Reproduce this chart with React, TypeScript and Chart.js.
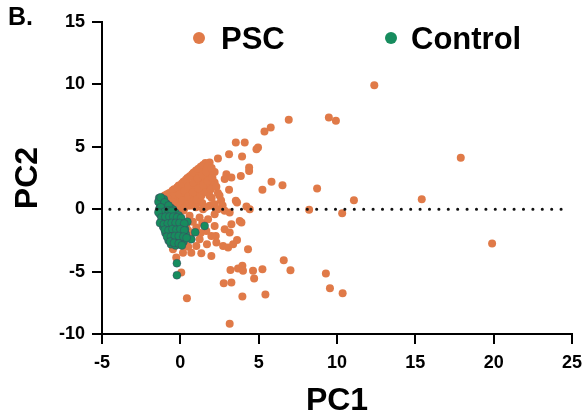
import React, { useEffect, useRef } from "react";
import { Chart, registerables } from "chart.js";

Chart.register(...registerables);

// ---- Data ----
const seriesLabels = ["PSC", "Control"];
const seriesColors = ["#E07A48", "#178C5E"];

const pscPC1 = [
  12.38, 9.48, 9.93, 6.92, 5.77, 5.37, 3.54, 4.11, 4.86, 4.96,
  3.11, 3.94, 2.4, 1.87, 1.7, 4.39, 4.39, 2.19, 1.02, 2.94,
  3.26, 2.83, 3.86, 2.19, 2.13, 3.11, 5.82, 5.24, 6.52, 1.87,
  3.54, 1.23, 8.73, 8.22, 10.33, 11.08, 15.41, 17.9, 19.9, 9.29,
  9.55, 10.36, 1.34, 1.98, 4.32, 6.6, 7.03, 3.2, 3.68, 3.96,
  4.0, 4.64, 5.24, 4.71, 2.77, 3.26, 3.96, 5.43, 3.15, 0.42,
  0.17, 0.7, -0.47, 0.06, -0.26, 2.73, 3.05, 3.37, 3.62, 3.15,
  3.26, 3.79, 3.15, 2.83, 3.62, 4.22, 4.43, 2.26, 2.83, 3.9,
  0.59, 1.02, 1.45, 1.87, 0.59, 1.23, 1.77, 2.19, 0.38, 1.02,
  1.66, 2.19, 0.59, 1.23, 1.98, 2.3, 0.27, 1.02, 0.8, 1.4,
  0.5, 1.3, 1.7, 0.5, -0.5, 0.2, 0.0, 0.3,
  -1.0, -0.7, -0.4, -0.1, 0.2, 0.45, 0.75, 1.0, 1.3, 1.6,
  -0.6, -0.3, 0.0, 0.3, 0.6, 0.9, 1.2, 1.5, 1.8,
  -0.2, 0.1, 0.4, 0.7, 1.0, 1.3, 1.6, 1.9,
  0.0, 0.3, 0.6, 0.9, 1.2, 1.5, 1.8, 2.1,
  -0.2, 0.25, 0.8, 1.4, 2.0, 2.4, 2.2, 2.6, 1.13, 1.55,
  -0.85, -0.5, -0.2, 0.1, 0.35, 0.6, 0.85, 1.15, 1.45, 1.75,
  -0.45, -0.05, 0.25, 0.5, 0.85, 1.1, 1.4, 1.65, 2.0,
  0.15, 0.5, 0.8, 1.15, 1.45, 1.75, 2.05,
  0.45, 0.75, 1.05, 1.35, 1.65, 1.95, 2.3, 2.5, 2.7,
  -0.75, -0.5, 1.0, 1.6, 2.4,
];
const pscPC2 = [
  9.94, 7.35, 7.08, 7.16, 6.55, 6.23, 5.35, 5.35, 4.81, 4.95,
  4.41, 4.22, 4.07, 3.74, 3.53, 3.34, 3.07, 2.99, 2.99, 2.81,
  2.54, 2.41, 2.67, 2.14, 1.87, 1.55, 2.19, 1.55, 1.92, 1.07,
  0.67, 0.8, 1.66, -0.05, -0.32, 0.72, 0.8, 4.12, -2.75, -5.16,
  -6.34, -6.74, -3.53, -3.74, -3.21, -4.09, -4.89, -4.87, -4.76, -4.54,
  -4.94, -4.94, -4.81, -5.56, -5.93, -5.88, -7.0, -6.84, -9.17, -7.14,
  -3.48, -3.48, -3.21, -5.08, -3.88, -2.94, -3.07, -2.81, -2.46, -1.87,
  -1.2, -0.94, -0.27, -0.13, 0.53, 0.21, 0.0, -2.14, -1.6, -1.07,
  0.27, 0.53, 0.0, 0.27, -0.53, -0.67, -0.8, -0.4, -1.34, -1.47,
  -1.74, -1.34, -2.14, -2.41, -2.14, -2.67, -2.67, -2.94, -1.0, -1.1,
  -1.7, -1.9, -2.8, -3.0, -2.9, -0.1, 0.3, 0.6,
  1.1, 1.3, 1.6, 1.9, 2.2, 2.5, 2.8, 3.1, 3.4, 3.7,
  0.9, 1.1, 1.4, 1.7, 2.0, 2.3, 2.6, 2.9, 3.2,
  0.6, 0.9, 1.2, 1.5, 1.8, 2.1, 2.4, 2.7,
  0.3, 0.5, 0.8, 1.0, 1.3, 1.6, 1.9, 2.2,
  0.1, 0.05, 0.3, 0.5, 0.9, 1.3, 0.4, 0.7, 3.07, 2.81,
  1.2, 1.5, 1.75, 2.05, 2.35, 2.65, 2.95, 3.25, 3.55, 3.45,
  1.05, 1.2, 1.45, 1.8, 2.1, 2.45, 2.75, 3.05, 3.3,
  0.7, 1.0, 1.35, 1.65, 1.95, 2.25, 2.5,
  0.35, 0.6, 0.75, 1.1, 1.35, 1.6, 1.8, 1.1, 0.3,
  0.75, 0.55, 0.15, 0.15, 0.0,
];

const controlPC1 = [
  -1.35, -1.2, -1.05, -1.3, -1.1, -0.9, -1.35, -1.15, -0.9, -0.6,
  -0.45, -1.3, -1.1, -0.85, -0.6, -0.3, -0.1, -1.2, -1.0, -0.75,
  -0.5, -0.25, 0.05, -1.1, -0.85, -0.6, -0.35, -0.1, 0.15, -0.95,
  -0.7, -0.45, -0.2, 0.1, 0.35, -0.75, -0.5, -0.25, 0.0, 0.2,
  -0.6, -0.3, 1.55, 0.7, 0.95, -0.22, -0.22, 0.45, 0.3,
  -1.4, -1.25, -1.0, -0.75, -1.25, -1.0, -0.75, -0.55, -1.4, -1.2,
  -0.95, -0.7, -0.45, -0.2, 0.05, -1.3, -1.05, -0.8, -0.55, -0.3,
  -0.05, 0.25, -1.0, -0.75, -0.5, -0.25, 0.0, 0.25, -0.85, -0.6,
  -0.35, -0.1, 0.2, 0.4, -0.65, -0.4, -0.1, 0.1,
];
const controlPC2 = [
  0.9, 0.7, 0.8, 0.4, 0.3, 0.45, 0.0, -0.1, 0.05, 0.1,
  -0.05, -0.4, -0.5, -0.35, -0.4, -0.3, -0.5, -0.9, -1.0, -0.8,
  -0.9, -0.85, -0.95, -1.4, -1.5, -1.3, -1.4, -1.3, -1.4, -1.9,
  -2.0, -1.8, -1.9, -1.85, -2.0, -2.5, -2.4, -2.55, -2.35, -2.6,
  -2.8, -2.9, -1.34, -2.4, -1.85, -4.33, -5.29, -1.0, -1.6,
  0.6, 0.95, 0.55, 0.3, 0.15, -0.2, -0.1, -0.15, -0.25, -0.65,
  -0.6, -0.6, -0.6, -0.65, -0.7, -1.1, -1.2, -1.15, -1.1, -1.1,
  -1.1, -1.15, -1.65, -1.7, -1.6, -1.65, -1.6, -1.7, -2.2, -2.2,
  -2.15, -2.15, -2.2, -2.3, -2.6, -2.7, -2.75, -2.9,
];

const xRange = [-5, 25];
const yRange = [-10, 15];
const tickStep = 5;
const zeroLinePC1 = [-4.5, 24.4];
const zeroLinePC2 = [0, 0];
const axisTitles = ["PC1", "PC2"];
const panelLabel = "B.";

const FONT = "'Liberation Sans', Arial, Helvetica, sans-serif";

const toPoints = (xs: number[], ys: number[]) => xs.map((x, i) => ({ x, y: ys[i] }));

const overlayPlugin = {
  id: "overlay",
  afterDraw(chart: any) {
    const ctx = chart.ctx;
    ctx.save();
    ctx.fillStyle = "#000";
    ctx.font = `bold 25px ${FONT}`;
    ctx.textBaseline = "alphabetic";
    ctx.textAlign = "left";
    ctx.fillText(panelLabel, 8, 25);

    const items = [
      { label: seriesLabels[0], color: seriesColors[0], dotX: 199, textX: 221 },
      { label: seriesLabels[1], color: seriesColors[1], dotX: 391, textX: 411 },
    ];
    ctx.font = `bold 31px ${FONT}`;
    ctx.textBaseline = "middle";
    items.forEach((it) => {
      ctx.beginPath();
      ctx.fillStyle = it.color;
      ctx.arc(it.dotX, 38, 6, 0, Math.PI * 2);
      ctx.fill();
      ctx.fillStyle = "#000";
      ctx.fillText(it.label, it.textX, 40);
    });
    ctx.restore();
  },
};

export default function App() {
  const canvasRef = useRef<HTMLCanvasElement | null>(null);

  useEffect(() => {
    if (!canvasRef.current) return;
    const tickFont = { family: FONT, size: 18, weight: "bold" as const };
    const titleFont = { family: FONT, size: 32, weight: "bold" as const, lineHeight: 1 };
    const chart = new Chart(canvasRef.current, {
      type: "scatter",
      data: {
        datasets: [
          {
            type: "line" as any,
            label: "zero",
            data: toPoints(zeroLinePC1, zeroLinePC2),
            borderColor: "#111",
            borderWidth: 3,
            borderDash: [0.1, 9.3],
            borderCapStyle: "round",
            pointRadius: 0,
            fill: false,
          } as any,
          {
            label: seriesLabels[1],
            data: toPoints(controlPC1, controlPC2),
            backgroundColor: seriesColors[1],
            borderColor: "rgba(80,40,100,0.5)",
            borderWidth: 0.7,
            pointRadius: 4,
          },
          {
            label: seriesLabels[0],
            data: toPoints(pscPC1, pscPC2),
            backgroundColor: seriesColors[0],
            borderWidth: 0,
            pointRadius: 4,
          },
        ],
      },
      options: {
        responsive: false,
        animation: false,
        events: [],
        layout: { padding: { left: 0, top: 22, right: 13, bottom: 0 } },
        plugins: { legend: { display: false }, tooltip: { enabled: false } },
        scales: {
          x: {
            type: "linear",
            min: xRange[0],
            max: xRange[1],
            ticks: { stepSize: tickStep, color: "#000", font: tickFont, padding: 8, maxRotation: 0 },
            grid: { drawOnChartArea: false, drawTicks: true, tickLength: 10, color: "#000", lineWidth: 2 },
            border: { color: "#000", width: 2 },
            title: { display: true, text: axisTitles[0], color: "#000", font: titleFont, padding: { top: 0, bottom: 0 } },
            afterFit: (s: any) => { s.height = 83; s.paddingLeft = 0; s.paddingRight = 0; },
          },
          y: {
            type: "linear",
            min: yRange[0],
            max: yRange[1],
            ticks: { stepSize: tickStep, color: "#000", font: tickFont, padding: 7 },
            grid: { drawOnChartArea: false, drawTicks: true, tickLength: 10, color: "#000", lineWidth: 2 },
            border: { color: "#000", width: 2 },
            title: { display: true, text: axisTitles[1], color: "#000", font: titleFont, padding: { top: 12, bottom: 0 } },
            afterFit: (s: any) => { s.width = 102; s.paddingTop = 0; s.paddingBottom = 0; },
          },
        },
      },
      plugins: [overlayPlugin],
    });
    return () => chart.destroy();
  }, []);

  return (
    <div style={{ position: "fixed", left: 0, top: 0, width: 585, height: 417, background: "#fff" }}>
      <canvas ref={canvasRef} width={585} height={417} style={{ display: "block" }} />
    </div>
  );
}
